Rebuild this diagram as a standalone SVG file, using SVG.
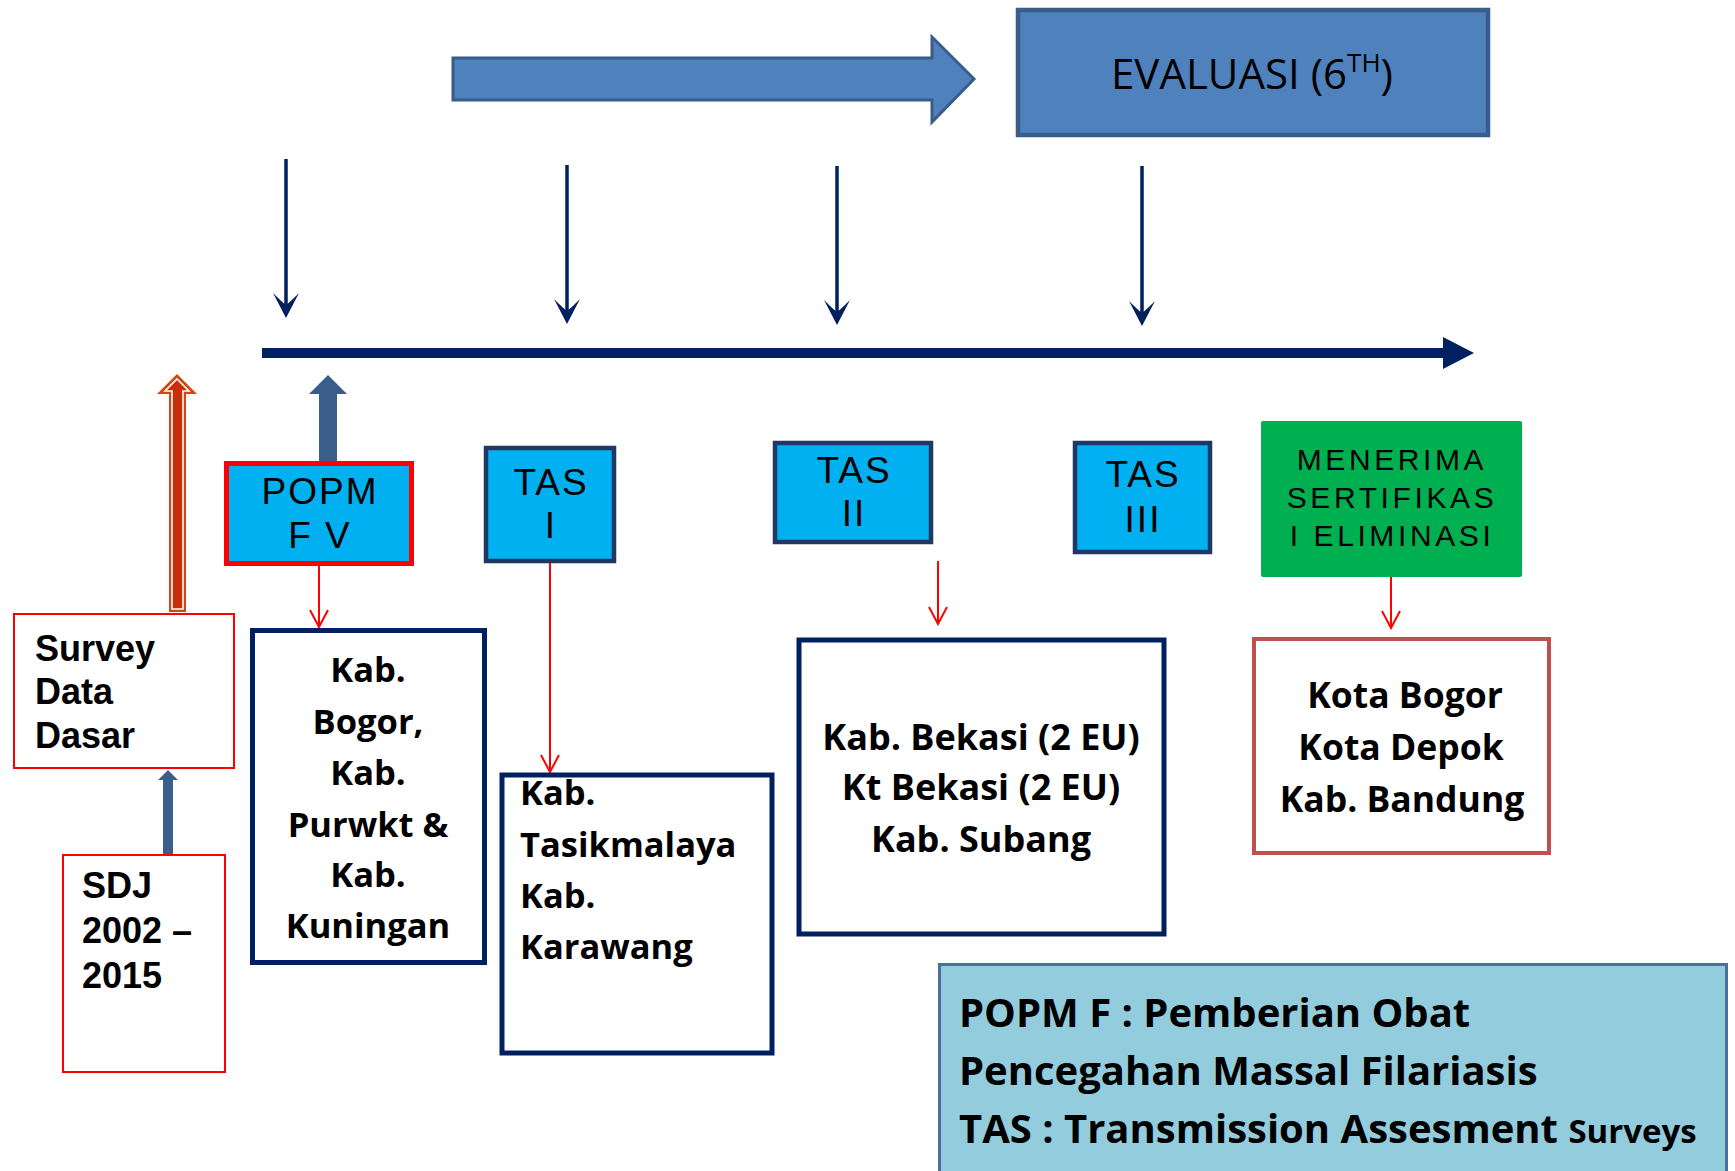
<svg xmlns="http://www.w3.org/2000/svg" width="1735" height="1171" viewBox="0 0 1735 1171">
<defs>
<style>
.navy{stroke:#002060;stroke-width:3.5;fill:none;marker-end:url(#navyHead)}
.red{stroke:#FF0000;stroke-width:2;fill:none;marker-end:url(#redHead)}
.tas{fill:#00B0F0;stroke:#1F3864;stroke-width:4.5}
.tasText{font-family:"Liberation Sans",Arial,sans-serif;font-size:37px;letter-spacing:2px;text-anchor:middle;fill:#000}
.box{fill:#fff;stroke:#002060;stroke-width:5}
.boxText{font-family:"Open Sans","Noto Sans",sans-serif;font-weight:700;font-size:34.5px;fill:#000}
.redBox{fill:#fff;stroke:#FF0000;stroke-width:2}
.arialBold{font-family:"Liberation Sans",Arial,sans-serif;font-weight:700;font-size:36px;fill:#000}
.blockBlue{fill:#3B5F8D}
</style>
<marker id="navyHead" markerUnits="userSpaceOnUse" viewBox="-27 -15 30 30" refX="-6" refY="0" markerWidth="30" markerHeight="30" orient="auto">
<path d="M0,0 L-25,-13 Q-15,-3 -13,0 Q-15,3 -25,13 Z" fill="#002060"/>
</marker>
<marker id="redHead" markerUnits="userSpaceOnUse" viewBox="-20 -12 22 24" refX="0" refY="0" markerWidth="22" markerHeight="24" orient="auto">
<path d="M-17,-9 L0,0 L-17,9" fill="none" stroke="#FF0000" stroke-width="2"/>
</marker>
</defs>
<rect width="1735" height="1171" fill="#fff"/>

<g id="connectors">
<polygon points="453,58 932,58 932,37 974,79 932,122 932,100 453,100" fill="#4F81BD" stroke="#385D8A" stroke-width="3"/>
<line class="navy" x1="286" y1="159" x2="286" y2="312"/>
<line class="navy" x1="567" y1="165" x2="567" y2="318"/>
<line class="navy" x1="837" y1="166" x2="837" y2="319"/>
<line class="navy" x1="1142" y1="166" x2="1142" y2="320"/>
<rect x="262" y="348" width="1183" height="10" fill="#002060"/>
<polygon points="1443,337 1474,353 1443,369" fill="#002060"/>
<polygon class="blockBlue" points="328,375 347,394 337,394 337,461 319,461 319,394 309,394"/>
<polygon class="blockBlue" points="168,770 178,780 173,780 173,857 163,857 163,780 158,780"/>
<polygon points="177,374 197,394 186,394 186,612 169,612 169,394 157,394" fill="#D2460F"/>
<polygon points="177,379 189,391 183,391 183,609 172,609 172,391 165,391" fill="#C8300C" stroke="#fff" stroke-width="1.6"/>
<line class="red" x1="319" y1="566" x2="319" y2="627"/>
<line class="red" x1="550" y1="563" x2="550" y2="772"/>
<line class="red" x1="938" y1="561" x2="938" y2="624"/>
<line class="red" x1="1391" y1="564" x2="1391" y2="628"/>
</g>

<g id="evaluasi">
<rect x="1018" y="10" width="470" height="125" fill="#4F81BD" stroke="#385D8A" stroke-width="4.5"/>
<text x="1111" y="89" font-family="Open Sans,Noto Sans,sans-serif" font-size="42" fill="#000">EVALUASI (6<tspan font-size="26" dy="-17">TH</tspan><tspan dy="17">)</tspan></text>
</g>

<g id="survey">
<rect class="redBox" x="14" y="614" width="220" height="154"/>
<text class="arialBold" x="35" y="661">Survey</text>
<text class="arialBold" x="35" y="704">Data</text>
<text class="arialBold" x="35" y="748">Dasar</text>
</g>

<g id="sdj">
<rect class="redBox" x="63" y="855" width="162" height="217"/>
<text class="arialBold" x="82" y="898">SDJ</text>
<text class="arialBold" x="82" y="943">2002 –</text>
<text class="arialBold" x="82" y="988">2015</text>
</g>

<g id="popm">
<rect x="226.5" y="463.5" width="185" height="100" fill="#00B0F0" stroke="#FF0000" stroke-width="5"/>
<text class="tasText" x="320" y="504">POPM</text>
<text class="tasText" x="320" y="548">F V</text>
</g>

<g id="tas1">
<rect class="tas" x="486" y="448" width="128" height="113"/>
<text class="tasText" x="551" y="495">TAS</text>
<text class="tasText" x="551" y="538">I</text>
</g>

<g id="tas2">
<rect class="tas" x="775" y="443" width="156" height="99"/>
<text class="tasText" x="854" y="483">TAS</text>
<text class="tasText" x="854" y="526">II</text>
</g>

<g id="tas3">
<rect class="tas" x="1075" y="443" width="135" height="109" stroke="#002060"/>
<text class="tasText" x="1143" y="487">TAS</text>
<text class="tasText" x="1143" y="532">III</text>
</g>

<g id="sertifikasi">
<rect x="1261" y="421" width="261" height="156" rx="2" fill="#00B050"/>
<g font-family="Liberation Sans,Arial,sans-serif" font-size="30" letter-spacing="3.6" text-anchor="middle" fill="#000">
<text x="1392" y="470">MENERIMA</text>
<text x="1392" y="508">SERTIFIKAS</text>
<text x="1392" y="546">I ELIMINASI</text>
</g>
</g>

<g id="kabBogor">
<rect class="box" x="252.5" y="630.5" width="232" height="332"/>
<g class="boxText" text-anchor="middle">
<text x="368" y="682">Kab.</text>
<text x="368" y="734">Bogor,</text>
<text x="368" y="785">Kab.</text>
<text x="368" y="837">Purwkt &amp;</text>
<text x="368" y="887">Kab.</text>
<text x="368" y="938">Kuningan</text>
</g>
</g>

<g id="tasik">
<rect class="box" x="502" y="775" width="270" height="278" stroke="#1F3864" stroke-width="4.5"/>
<g class="boxText">
<text x="520" y="805">Kab.</text>
<text x="520" y="857">Tasikmalaya</text>
<text x="520" y="908">Kab.</text>
<text x="520" y="959">Karawang</text>
</g>
</g>

<g id="bekasi">
<rect class="box" x="799" y="640" width="365" height="294" stroke-width="4.5"/>
<g class="boxText" text-anchor="middle" style="font-size:36px">
<text x="981" y="750">Kab. Bekasi (2 EU)</text>
<text x="981" y="800">Kt Bekasi (2 EU)</text>
<text x="981" y="852">Kab. Subang</text>
</g>
</g>

<g id="kota">
<rect x="1254" y="639" width="295" height="214" fill="#fff" stroke="#C0504D" stroke-width="4"/>
<g class="boxText" text-anchor="middle" style="font-size:35.5px">
<text x="1405" y="708">Kota Bogor</text>
<text x="1401" y="760">Kota Depok</text>
<text x="1402" y="812">Kab. Bandung</text>
</g>
</g>

<g id="legend">
<rect x="939.5" y="964.5" width="787" height="230" fill="#93CDDD" stroke="#4A6E9E" stroke-width="3"/>
<g class="boxText" style="font-size:40px">
<text x="959" y="1027">POPM F : Pemberian Obat</text>
<text x="959" y="1085">Pencegahan Massal Filariasis</text>
<text x="959" y="1143">TAS : Transmission Assesment <tspan style="font-size:33px">Surveys</tspan></text>
</g>
</g>
</svg>
